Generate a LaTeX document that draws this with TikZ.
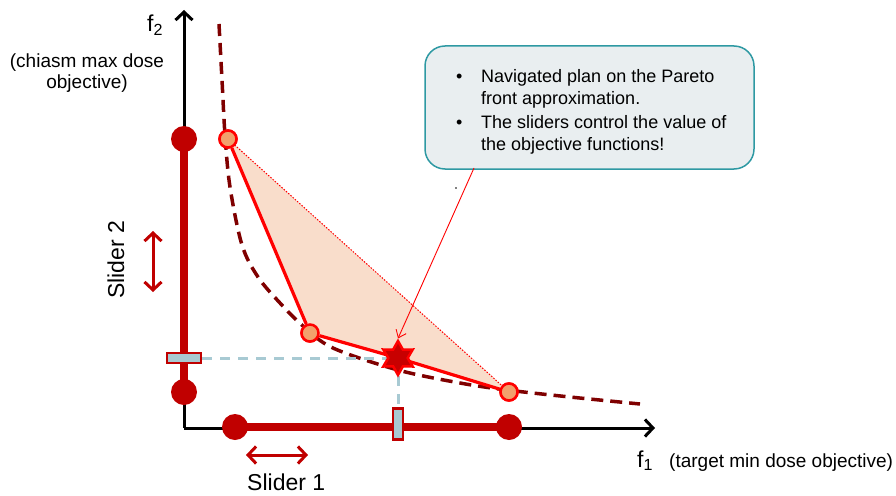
\documentclass[tikz,border=0pt]{standalone}
\usepackage{fontspec}
\setmainfont{Liberation Sans}
\usetikzlibrary{arrows.meta,shapes.geometric}
\definecolor{sliderred}{HTML}{C00000}
\definecolor{frontred}{HTML}{7F0000}
\definecolor{ptfill}{HTML}{F2A06C}
\definecolor{ptline}{HTML}{FF0000}
\definecolor{polyfill}{HTML}{F9DDCB}
\definecolor{handlefill}{HTML}{A8C9D1}
\definecolor{dashblue}{HTML}{A8CAD3}
\definecolor{boxfill}{HTML}{E9EEF0}
\definecolor{boxline}{HTML}{2E99A3}
\definecolor{starfill}{HTML}{C80000}
\begin{document}
\begin{tikzpicture}[x=1pt,y=-1pt,
  axisline/.style={line width=3pt,black,-{Straight Barb[length=8pt,width=17pt]}},
  sliderbar/.style={line width=8pt,sliderred},
  knob/.style={circle,fill=sliderred,minimum size=26pt,inner sep=0pt},
  handlebox/.style={rectangle,draw=sliderred,line width=2.5pt,fill=handlefill,inner sep=0pt},
  dblarrow/.style={line width=3pt,sliderred,{Straight Barb[length=8pt,width=17pt]}-{Straight Barb[length=8pt,width=17pt]}},
  ptnode/.style={circle,fill=ptfill,draw=ptline,line width=2.5pt,minimum size=17pt,inner sep=0pt},
  frontedge/.style={line width=3.2pt,ptline},
  guide/.style={line width=3pt,dashblue,dash pattern=on 10pt off 8pt},
  front/.style={line width=3.5pt,frontred,dash pattern=on 12pt off 7pt},
  starnode/.style={star,star points=6,star point ratio=1.75,minimum size=34pt,inner sep=0pt,fill=starfill,draw=ptline,line width=2.5pt},
  lbl/.style={inner sep=0pt,font=\fontsize{23}{26}\selectfont},
  sublbl/.style={inner sep=0pt,font=\fontsize{19}{21}\selectfont},
]
\useasboundingbox (0,0) rectangle (896,495);

% axes
\coordinate (corner) at (184,428);
\coordinate (ytip) at (184,10);
\coordinate (xtip) at (655,428);
\draw[axisline] (corner) -- (ytip);
\draw[axisline] (corner) -- (xtip);

% axis labels
\node[lbl,anchor=base west] (f2) at (147,32) {f\textsubscript{2}};
\node[sublbl,align=center] (f2txt) at (87,73) {(chiasm max dose\\objective)};
\node[lbl,anchor=base west] (f1) at (637,467) {f\textsubscript{1}};
\node[sublbl,anchor=base west] (f1txt) at (669,467) {(target min dose objective)};

% Pareto front curve
\draw[front] plot[smooth,tension=0.55] coordinates {(219,24) (222,80) (225,135) (230,187) (242,245) (258,277) (280,303) (303,326) (333,348) (398,370) (460,383) (507,390) (570,397) (640,404)};

% plan points
\node[ptnode] (p1) at (228,139) {};
\node[ptnode] (p2) at (310,333) {};
\node[ptnode] (p3) at (509,392) {};
\coordinate (sc) at (398,358);

% polygon fill
\fill[polyfill] (p1.center) -- (p2.center) -- (sc) -- (p3.center) -- cycle;
\draw[ptline,line width=1pt,dash pattern=on 1.5pt off 1.5pt] (p1.center) -- (p3.center);
\draw[frontedge] (p1) -- (p2);
\draw[frontedge] (p2) -- (sc) -- (p3);
\node[ptnode] at (p1) {};
\node[ptnode] at (p2) {};
\node[ptnode] at (p3) {};

% sliders
\node[knob] (s2t) at (184,139) {};
\node[knob] (s2b) at (184,392) {};
\draw[sliderbar] (s2t.center) -- (s2b.center);
\node[knob] (s1l) at (235,427) {};
\node[knob] (s1r) at (509,427) {};
\draw[sliderbar] (s1l.center) -- (s1r.center);

% handles and guides
\node[handlebox,minimum width=34pt,minimum height=10pt] (h2) at (184,358) {};
\node[handlebox,minimum width=10pt,minimum height=31pt] (h1) at (398,424) {};
\draw[guide] (h2.east) -- (sc);
\draw[guide] (sc) -- (h1.north);

% star (navigated plan)
\node[starnode] (star) at (sc) {};

% slider arrows and labels
\coordinate (a2t) at (153,231);
\coordinate (a2b) at (153,292);
\draw[dblarrow] (a2t) -- (a2b);
\coordinate (a1l) at (246,455);
\coordinate (a1r) at (308,455);
\draw[dblarrow] (a1l) -- (a1r);
\node[lbl,anchor=base west] (sl1) at (247,490) {Slider 1};
\node[lbl,anchor=base,rotate=90] (sl2) at (124,260) {Slider 2};

% callout
\node[draw=boxline,fill=boxfill,line width=1.5pt,rounded corners=20pt,minimum width=329pt,minimum height=123pt,inner sep=0pt] (callout) at (589.5,107.5) {};
\node[inner sep=0pt,anchor=base west,font=\fontsize{18}{22}\selectfont] (ctext) at (456,82)
  {\begin{tabular}[t]{@{}l@{}l@{}}
   \makebox[25pt][l]{•} & Navigated plan on the Pareto\\
   & front approximation.\\[2.5pt]
   \makebox[25pt][l]{•} & The sliders control the value of\\
   & the objective functions!
   \end{tabular}};
\coordinate (cfoot) at (474,168);
\draw[ptline,line width=0.9pt,-{Straight Barb[length=7pt,width=11pt]}] (cfoot) -- (star.north);
\fill (456,188) circle (0.9);
\end{tikzpicture}
\end{document}
